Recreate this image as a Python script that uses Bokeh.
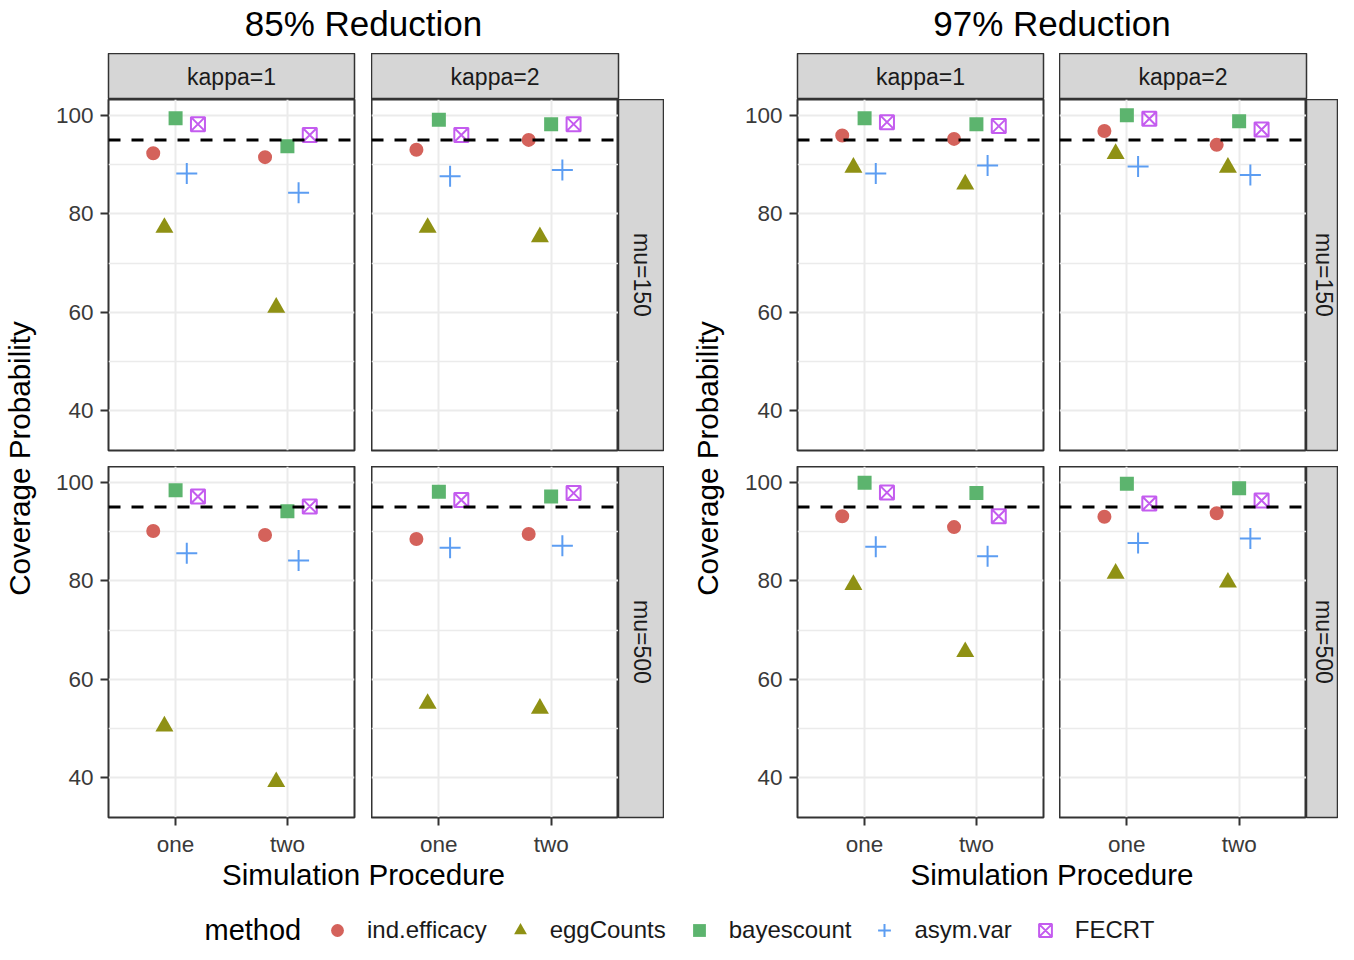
import math
from bokeh.plotting import figure
from bokeh.models import (ColumnDataSource, FactorRange, Range1d, FixedTicker,
                          Span, Label, Legend, LegendItem)
from bokeh.layouts import row, column
from bokeh.transform import dodge
from bokeh.embed import file_html
from bokeh.resources import INLINE

FONT = "Liberation Sans"

# ---------------- data ----------------
reductions = ["85% Reduction", "97% Reduction"]
mus = ["mu=150", "mu=500"]
kappas = ["kappa=1", "kappa=2"]
procedures = ["one", "two"]
methods = ["ind.efficacy", "eggCounts", "bayescount", "asym.var", "FECRT"]
x_title = "Simulation Procedure"
y_title = "Coverage Probability"
legend_title = "method"
target_coverage = 95
y_ticks = [40, 60, 80, 100]
y_minor_ticks = [50, 70, 90]
y_limits = (31.97, 103.2)

# order: reduction (85, 97) > mu (150, 500) > kappa (1, 2) > procedure (one, two)
ind_efficacy = [92.3, 91.5, 93.0, 95.0, 90.1, 89.3, 88.5, 89.5,
                95.9, 95.2, 96.8, 94.0, 93.1, 90.9, 93.0, 93.7]
egg_counts = [77.2, 61.0, 77.2, 75.3, 50.5, 39.2, 55.1, 54.1,
              89.4, 86.0, 92.2, 89.4, 79.2, 65.6, 81.5, 79.7]
bayescount = [99.4, 93.7, 99.1, 98.2, 98.4, 94.1, 98.1, 97.1,
              99.4, 98.2, 100.0, 98.8, 99.9, 97.8, 99.7, 98.8]
asym_var = [88.2, 84.3, 87.6, 88.9, 85.6, 84.1, 86.7, 87.1,
            88.2, 89.8, 89.6, 87.9, 86.9, 85.0, 87.7, 88.6]
fecrt = [98.2, 96.0, 96.0, 98.2, 97.1, 95.1, 96.4, 97.8,
         98.6, 97.8, 99.3, 97.1, 97.9, 93.1, 95.7, 96.3]

series = {"ind.efficacy": ind_efficacy, "eggCounts": egg_counts,
          "bayescount": bayescount, "asym.var": asym_var, "FECRT": fecrt}

# ---------------- styles ----------------
styles = {
    "ind.efficacy": dict(marker="circle", size=14, fill_color="#D4625B", line_color=None),
    "eggCounts": dict(marker="triangle", size=18, fill_color="#8F9114", line_color=None),
    "bayescount": dict(marker="square", size=14, fill_color="#5CB46E", line_color=None),
    "asym.var": dict(marker="cross", size=21, line_color="#5C9DF2", line_width=2),
    "FECRT": dict(marker="square_x", size=14, fill_color=None, line_color="#C45CEF", line_width=2),
}
offsets = [-0.2, -0.1, 0.0, 0.1, 0.2]

FRAME_H = 351
AX_W = 63
TEXT_DARK = "#1A1A1A"
TICK_COL = "#3A3A3A"
GRID_COL = "#EBEBEB"
BORDER_COL = "#333333"
STRIP_FILL = "#D6D6D6"


def blank_fig(fw, fh, left=0, right=0, top=0, bottom=0, bg=None, outline=None):
    p = figure(x_range=Range1d(0, fw), y_range=Range1d(0, fh),
               frame_width=fw, frame_height=fh,
               min_border_left=left, min_border_right=right,
               min_border_top=top, min_border_bottom=bottom,
               x_axis_location=None, y_axis_location=None,
               toolbar_location=None, tools="", output_backend="svg",
               background_fill_color=bg, border_fill_color="white",
               outline_line_color=outline)
    p.grid.visible = False
    return p


def text_fig(w, h, text, x, y, size, angle=0.0, color="black"):
    p = blank_fig(w, h)
    p.add_layout(Label(x=x, y=y, text=text, angle=angle, text_align="center",
                       text_baseline="middle", text_font=FONT,
                       text_font_size=size, text_color=color))
    return p


def strip_fig(text, fw, fh, angle=0.0, left=0, right=0, bottom=0, tx=None):
    p = blank_fig(fw, fh, left=left, right=right, bottom=bottom,
                  bg=STRIP_FILL, outline=BORDER_COL)
    p.outline_line_width = 1.5
    p.add_layout(Label(x=fw / 2 if tx is None else tx, y=fh / 2, text=text,
                       angle=angle, text_align="center", text_baseline="middle",
                       text_font=FONT, text_font_size="23px", text_color=TEXT_DARK))
    return p


def facet(r, m, k, show_y, show_x, fw, right_gap, bottom_gap):
    xr = FactorRange(factors=procedures, range_padding=0.1)
    p = figure(x_range=xr, y_range=Range1d(*y_limits),
               frame_width=fw, frame_height=FRAME_H,
               min_border_left=AX_W if show_y else 0, min_border_right=right_gap,
               min_border_top=0, min_border_bottom=bottom_gap,
               x_axis_location="below" if show_x else None,
               y_axis_location="left" if show_y else None,
               toolbar_location=None, tools="", output_backend="svg",
               background_fill_color="white", border_fill_color="white",
               outline_line_color=BORDER_COL, outline_line_width=2)
    p.xgrid.grid_line_color = GRID_COL
    p.xgrid.grid_line_width = 2
    p.ygrid.ticker = FixedTicker(ticks=y_ticks, minor_ticks=y_minor_ticks)
    p.ygrid.grid_line_color = GRID_COL
    p.ygrid.grid_line_width = 2
    p.ygrid.minor_grid_line_color = GRID_COL
    p.ygrid.minor_grid_line_width = 1.3
    if show_y:
        ax = p.yaxis[0]
        ax.ticker = FixedTicker(ticks=y_ticks, minor_ticks=y_minor_ticks)
        ax.axis_line_color = None
        ax.major_tick_out = 8
        ax.major_tick_in = 0
        ax.major_tick_line_color = BORDER_COL
        ax.major_tick_line_width = 2
        ax.minor_tick_line_color = None
        ax.major_label_text_font = FONT
        ax.major_label_text_font_size = "22.5px"
        ax.major_label_text_color = TICK_COL
        ax.major_label_standoff = 7
    if show_x:
        ax = p.xaxis[0]
        ax.axis_line_color = None
        ax.major_tick_out = 8
        ax.major_tick_in = 0
        ax.major_tick_line_color = BORDER_COL
        ax.major_tick_line_width = 2
        ax.minor_tick_line_color = None
        ax.major_label_text_font = FONT
        ax.major_label_text_font_size = "22.5px"
        ax.major_label_text_color = TICK_COL
        ax.major_label_standoff = 6
    base = ((r * 2 + m) * 2 + k) * 2
    for j, meth in enumerate(methods):
        src = ColumnDataSource(dict(proc=procedures, value=series[meth][base:base + 2]))
        p.scatter(x=dodge("proc", offsets[j], range=xr), y="value", source=src,
                  **styles[meth])
    p.add_layout(Span(location=target_coverage, dimension="width",
                      line_color="black", line_width=3, line_dash="12 11"))
    return p


def super_panel(r):
    left_w = 45 if r == 0 else 70
    gap = 17 if r == 0 else 16
    strip_w = 46 if r == 0 else 32
    strip_tx = 23 if r == 0 else 17
    inner_w = AX_W + 246 + gap + 247 + strip_w
    total_w = left_w + inner_w
    center_inner = AX_W + (246 + gap + 247) / 2
    title = text_fig(total_w, 53, reductions[r], x=left_w + center_inner, y=30, size="35px")
    strips = row(strip_fig(kappas[0], 246, 46, left=AX_W, right=gap),
                 strip_fig(kappas[1], 247, 46, right=strip_w))
    rows = []
    for m in range(2):
        bottom = 16 if m == 0 else 42
        f1 = facet(r, m, 0, True, m == 1, 246, gap, bottom)
        f2 = facet(r, m, 1, False, m == 1, 247, 0, bottom)
        s = strip_fig(mus[m], strip_w, FRAME_H, angle=-math.pi / 2, bottom=bottom, tx=strip_tx)
        rows.append(row(f1, f2, s))
    xt = text_fig(inner_w, 36, x_title, x=center_inner, y=21, size="29.6px")
    inner = column(strips, rows[0], rows[1], xt)
    yt = text_fig(left_w, 842, y_title, x=19 if r == 0 else 43, y=437,
                  size="29.6px", angle=math.pi / 2)
    return column(title, row(yt, inner))


# ---------------- legend ----------------
lg = blank_fig(1338, 49)
items = []
for meth in methods:
    # legend key only: a single non-drawn (NaN) placeholder row
    key_src = ColumnDataSource(dict(x=[float("nan")], y=[float("nan")], method=[meth]))
    rr = lg.scatter(x="x", y="y", source=key_src, **styles[meth])
    items.append(LegendItem(label=meth, renderers=[rr], index=0))
legend = Legend(items=items, orientation="horizontal", location=(321, -2),
                padding=0, margin=0, spacing=17, label_standoff=14,
                glyph_width=32, glyph_height=32, label_height=20,
                label_text_font=FONT, label_text_font_size="24px",
                label_text_color=TEXT_DARK, border_line_color=None,
                background_fill_alpha=0)
lg.add_layout(legend)
lg.add_layout(Label(x=204, y=15, text=legend_title, text_align="left",
                    text_baseline="middle", text_font=FONT,
                    text_font_size="29px", text_color="black"))

layout = column(row(super_panel(0), super_panel(1)), lg)

open("out.html", "w").write(file_html(layout, INLINE))
